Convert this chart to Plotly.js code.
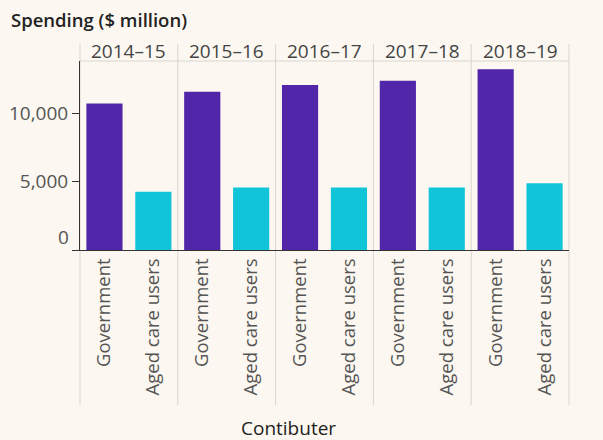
<!DOCTYPE html>
<html>
<head>
<meta charset="utf-8">
<script src="https://cdn.plot.ly/plotly-3.0.1.min.js"></script>
<style>html,body{margin:0;padding:0;background:#fcf8f1;}#chart{width:603px;height:440px;}</style>
</head>
<body>
<div id="chart"></div>
<script>
var years = ["2014–15", "2015–16", "2016–17", "2017–18", "2018–19"];
var contributors = ["Government", "Aged care users"];
var government = [10700, 11550, 12050, 12350, 13200];
var agedCareUsers = [4250, 4570, 4570, 4570, 4870];
var yTickVals = [0, 5000, 10000];
var yTickText = ["", "5,000", "10,000"];
var zeroLabel = "0";
var xTitle = "Contibuter";
var chartTitle = "Spending ($ million)";

var colors = ["#5126a9", "#11c5d9"];
var bg = "#fcf8f1";
var fontFam = "'Open Sans', 'Noto Sans', sans-serif";
var n = years.length;
var traces = [];
var layout = {
  width: 603, height: 440,
  paper_bgcolor: bg, plot_bgcolor: bg,
  margin: {l: 80, r: 34, t: 61, b: 190},
  showlegend: false,
  bargap: 0.26,
  font: {family: fontFam, color: "#555", size: 18},
  title: {text: chartTitle, xref: "container", yref: "container", x: 11/603, xanchor: "left", y: 1 - 21/440, yanchor: "middle",
          font: {family: fontFam, size: 18.5, color: "#222", weight: 600}},
  yaxis: {range: [0, 13800], tickvals: yTickVals, ticktext: yTickText, ticks: "outside", ticklen: 7, tickcolor: "#333",
          showline: true, linecolor: "#333", linewidth: 1, showgrid: false, zeroline: false, fixedrange: true,
          tickfont: {size: 19, color: "#555"}},
  shapes: [], annotations: []
};
for (var i = 0; i < n; i++) {
  var ax = i === 0 ? "x" : "x" + (i + 1);
  var axKey = i === 0 ? "xaxis" : "xaxis" + (i + 1);
  traces.push({
    type: "bar", x: contributors, y: [government[i], agedCareUsers[i]],
    xaxis: ax, yaxis: "y",
    marker: {color: colors, line: {width: 0}},
    hoverinfo: "x+y"
  });
  layout[axKey] = {
    domain: [i / n, (i + 1) / n], anchor: "y", type: "category",
    tickangle: -90, showline: true, linecolor: "#333", linewidth: 1, ticks: "", showgrid: false,
    tickfont: {size: 18.5, color: "#555"}, automargin: false, fixedrange: true
  };
  layout.annotations.push({
    text: years[i], xref: "paper", yref: "paper", x: (i + 0.5) / n, y: 1.0, yshift: 10,
    xanchor: "center", yanchor: "middle", showarrow: false,
    font: {size: 19, color: "#444"}
  });
}
for (var j = 0; j <= n; j++) {
  layout.shapes.push({type: "line", xref: "paper", yref: "paper", x0: j / n, x1: j / n, y0: -0.82, y1: 1.09,
    line: {color: "#d8d5cf", width: 1}, layer: "below"});
}
layout.shapes.push({type: "line", xref: "paper", yref: "paper", x0: 0, x1: 1, y0: 1, y1: 1,
  line: {color: "#d8d5cf", width: 1}, layer: "below"});
layout.annotations.push({
  text: zeroLabel, xref: "paper", yref: "y", x: 0, y: 0, xshift: -9, yshift: 13,
  xanchor: "right", yanchor: "middle", showarrow: false, font: {size: 19, color: "#555"}
});
layout.annotations.push({
  text: xTitle, xref: "paper", yref: "paper", x: (288 - 80) / 489, y: -0.94,
  xanchor: "center", yanchor: "middle", showarrow: false, font: {size: 19, color: "#222", weight: 500}
});
Plotly.newPlot("chart", traces, layout, {displayModeBar: false, staticPlot: true});
</script>
</body>
</html>
